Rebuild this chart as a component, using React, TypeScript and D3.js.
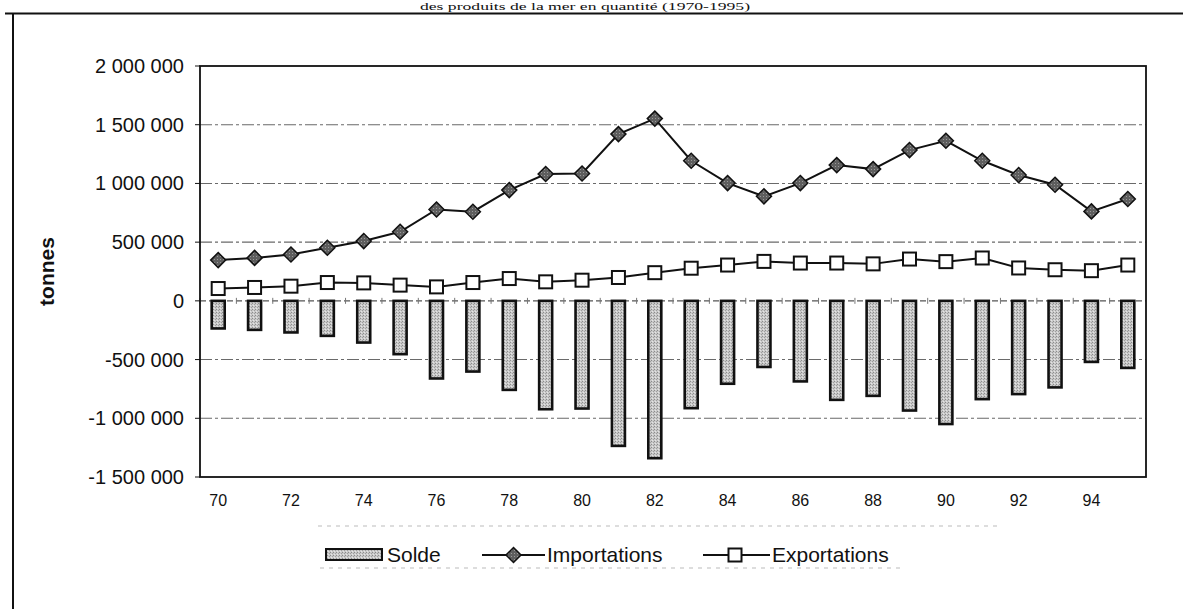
import React from "react";
import * as d3 from "d3";

const years = ["70","71","72","73","74","75","76","77","78","79","80","81","82","83","84","85","86","87","88","89","90","91","92","93","94","95"];
const xTickLabels = ["70","72","74","76","78","80","82","84","86","88","90","92","94"];
const yTicks = [2000000, 1500000, 1000000, 500000, 0, -500000, -1000000, -1500000];

const importations = [347000, 366000, 395000, 452000, 509000, 588000, 778000, 759000, 943000, 1080000, 1085000, 1420000, 1552000, 1193000, 1003000, 890000, 1003000, 1156000, 1122000, 1284000, 1363000, 1193000, 1071000, 989000, 762000, 867000];
const exportations = [105000, 114000, 125000, 156000, 153000, 134000, 119000, 156000, 190000, 162000, 176000, 199000, 240000, 278000, 305000, 336000, 322000, 322000, 315000, 356000, 334000, 365000, 280000, 265000, 257000, 305000];
const solde = [-235000, -247000, -269000, -298000, -355000, -454000, -661000, -602000, -758000, -923000, -917000, -1235000, -1340000, -914000, -706000, -563000, -686000, -843000, -809000, -934000, -1049000, -837000, -794000, -737000, -520000, -571000];

const seriesNames = ["Solde", "Importations", "Exportations"];
const yTitle = "tonnes";
const titleText = "des produits de la mer en quantité (1970-1995)";

const W = 1183, H = 609;
const PL = 200, PR = 1146, PT = 66, PB = 477;

const locale = d3.formatLocale({ decimal: ",", thousands: " ", grouping: [3], currency: ["", ""], minus: "-" });
const fmt = locale.format(",d");

export default function App() {
  const x = d3.scaleBand<string>().domain(years).range([PL, PR]).padding(0);
  const y = d3.scaleLinear().domain([-1500000, 2000000]).range([PB, PT]);
  const cx = (d: string) => (x(d) as number) + x.bandwidth() / 2;
  const barW = 13;

  const impLine = d3.line<number>().x((_, i) => cx(years[i])).y((v) => y(v))(importations) as string;
  const expLine = d3.line<number>().x((_, i) => cx(years[i])).y((v) => y(v))(exportations) as string;

  const diamond = (px: number, py: number, r: number) =>
    `M${px},${py - r}L${px + r},${py}L${px},${py + r}L${px - r},${py}Z`;

  const font = "'Liberation Sans', Arial, sans-serif";

  return (
    <svg width={W} height={H} style={{ position: "absolute", left: 0, top: 0, background: "#fff" }}>
      <defs>
        <pattern id="stip" width="3" height="3" patternUnits="userSpaceOnUse">
          <rect width="3" height="3" fill="#c9c9c9" />
          <rect x="0" y="0" width="1" height="1" fill="#8c8c8c" />
          <rect x="2" y="1" width="1" height="1" fill="#9e9e9e" />
          <rect x="1" y="2" width="1" height="1" fill="#e4e4e4" />
        </pattern>
        <pattern id="dstip" width="3" height="3" patternUnits="userSpaceOnUse">
          <rect width="3" height="3" fill="#5e5e5e" />
          <rect x="1" y="1" width="1" height="1" fill="#9a9a9a" />
        </pattern>
      </defs>

      {/* title (partly hidden in the scan) */}
      <text x={420} y={10} fontFamily="'Liberation Serif', 'Times New Roman', serif" fontSize={11} textLength={330} lengthAdjust="spacingAndGlyphs" fill="#111">{titleText}</text>

      {/* outer frame */}
      <line x1={5} y1={13.5} x2={W} y2={13.5} stroke="#111" strokeWidth={2} />
      <line x1={13} y1={13} x2={13} y2={H} stroke="#111" strokeWidth={2} />

      {/* gridlines */}
      {yTicks.filter((t) => t !== 0 && t !== 2000000 && t !== -1500000).map((t) => (
        <line key={"g" + t} x1={PL} x2={PR} y1={y(t)} y2={y(t)} stroke="#6a6a6a" strokeWidth={1.1} strokeDasharray="12 3 3 3" />
      ))}
      {/* zero line with category ticks */}
      <line x1={PL} x2={PR} y1={y(0)} y2={y(0)} stroke="#555" strokeWidth={1.1} strokeDasharray="6 3" />
      {years.map((d) => (
        <line key={"zt" + d} x1={x(d) as number} x2={x(d) as number} y1={y(0) - 3} y2={y(0) + 3} stroke="#777" strokeWidth={1} />
      ))}

      {/* bars */}
      {solde.map((v, i) => (
        <rect key={"b" + i} x={cx(years[i]) - barW / 2} y={y(0)} width={barW} height={y(v) - y(0)}
          fill="url(#stip)" stroke="#111" strokeWidth={2.6} />
      ))}

      {/* plot border */}
      <rect x={PL} y={PT} width={PR - PL} height={PB - PT} fill="none" stroke="#111" strokeWidth={1.8} />

      {/* y ticks and labels */}
      {yTicks.map((t) => (
        <g key={"yt" + t}>
          <line x1={PL - 5} x2={PL} y1={y(t)} y2={y(t)} stroke="#111" strokeWidth={1} />
          <text x={184} y={y(t) + 7} textAnchor="end" fontFamily={font} fontSize={20} fill="#111">{fmt(t)}</text>
        </g>
      ))}
      <text transform={`translate(54,${(PT + PB) / 2}) rotate(-90)`} textAnchor="middle" fontFamily={font} fontSize={21} fontWeight="bold" fill="#111">{yTitle}</text>

      {/* x labels */}
      {xTickLabels.map((d) => (
        <text key={"xl" + d} x={cx(d)} y={506} textAnchor="middle" fontFamily={font} fontSize={16} fill="#111">{d}</text>
      ))}

      {/* lines */}
      <path d={expLine} fill="none" stroke="#111" strokeWidth={2} />
      <path d={impLine} fill="none" stroke="#111" strokeWidth={2} />
      {exportations.map((v, i) => (
        <rect key={"s" + i} x={cx(years[i]) - 6.5} y={y(v) - 6.5} width={13} height={13} fill="#fff" stroke="#111" strokeWidth={2} />
      ))}
      {importations.map((v, i) => (
        <path key={"d" + i} d={diamond(cx(years[i]), y(v), 7.5)} fill="url(#dstip)" stroke="#111" strokeWidth={1.5} />
      ))}

      {/* legend */}
      <line x1={318} x2={1000} y1={526} y2={526} stroke="#bbb" strokeWidth={1} strokeDasharray="4 5" />
      <line x1={320} x2={900} y1={568} y2={568} stroke="#bbb" strokeWidth={1} strokeDasharray="4 5" />
      <rect x={326} y={549} width={56} height={11} fill="url(#stip)" stroke="#111" strokeWidth={2} />
      <text x={387} y={562} fontFamily={font} fontSize={21} fill="#111">{seriesNames[0]}</text>
      <line x1={482} x2={545} y1={555} y2={555} stroke="#111" strokeWidth={2} />
      <path d={diamond(513.5, 555, 7.5)} fill="url(#dstip)" stroke="#111" strokeWidth={1.5} />
      <text x={547} y={562} fontFamily={font} fontSize={21} fill="#111">{seriesNames[1]}</text>
      <line x1={703} x2={770} y1={555} y2={555} stroke="#111" strokeWidth={2} />
      <rect x={728.5} y={548.5} width={13} height={13} fill="#fff" stroke="#111" strokeWidth={2} />
      <text x={772} y={562} fontFamily={font} fontSize={21} fill="#111">{seriesNames[2]}</text>
    </svg>
  );
}
